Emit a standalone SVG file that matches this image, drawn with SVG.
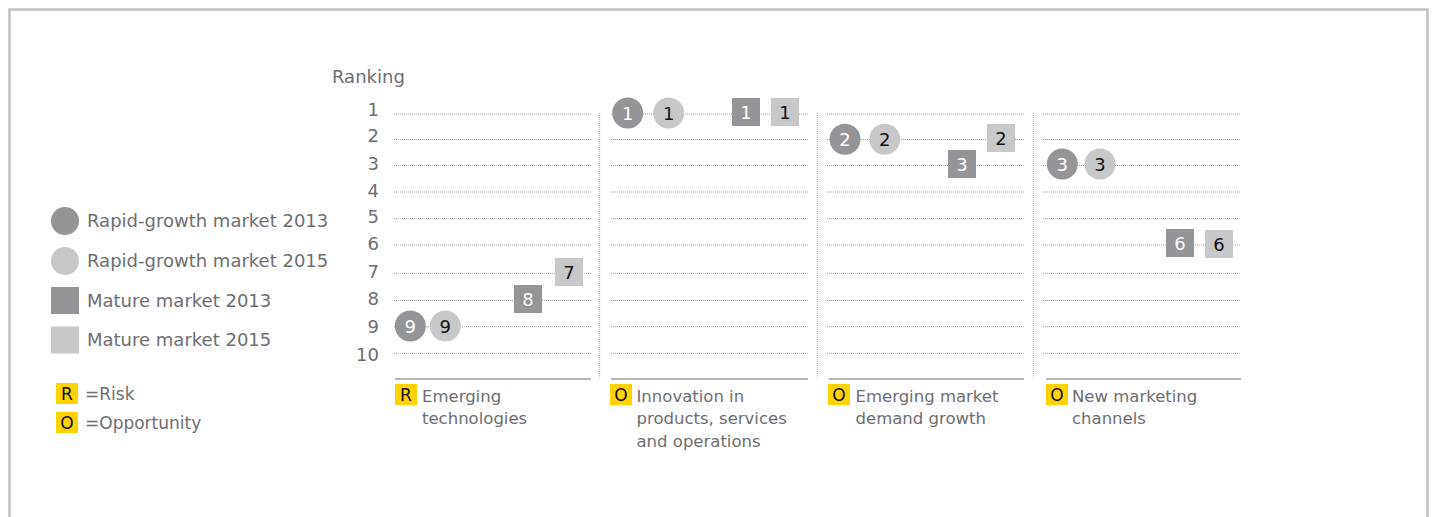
<svg xmlns="http://www.w3.org/2000/svg" width="1434" height="517" viewBox="0 0 1434 517">
<style>
text{font-family:"DejaVu Sans","Liberation Sans",sans-serif}
.lbl{font-size:18px;fill:#6d6e71}
.cat{font-size:16.5px;fill:#6d6e71}
.num{font-size:18px;fill:#6d6e71;text-anchor:end}
.grid{stroke:#9a9a9a;stroke-width:1;stroke-dasharray:1 1;fill:none}
.sep{stroke:#b8b8b8;stroke-width:1.2;stroke-dasharray:1 1;fill:none}
.base{stroke:#9d9d9d;stroke-width:1.5;fill:none}
.d{fill:#939598}
.l{fill:#c7c8ca}
.dt{font-size:18px;fill:#ffffff;text-anchor:middle}
.lt{font-size:18px;fill:#111111;text-anchor:middle}
.y{fill:#ffd200}
.yt{font-size:17px;fill:#111111;text-anchor:middle}
</style>
<rect width="1434" height="517" fill="#ffffff"/>
<path d="M9.5,517 V9.5 H1427.5 V517" fill="none" stroke="#c2c2c2" stroke-width="2.6"/>

<g id="axis">
<text class="lbl" x="332" y="83">Ranking</text>
<text class="num" x="379" y="115.7">1</text>
<text class="num" x="379" y="142.3">2</text>
<text class="num" x="379" y="169.5">3</text>
<text class="num" x="379" y="196.5">4</text>
<text class="num" x="379" y="223.3">5</text>
<text class="num" x="379" y="250">6</text>
<text class="num" x="379" y="278">7</text>
<text class="num" x="379" y="305">8</text>
<text class="num" x="379" y="332.5">9</text>
<text class="num" x="379" y="361">10</text>
</g>

<g id="connectors">
<path class="grid" d="M394,114H591M394,139.5H591M394,165.5H591M394,192H591M394,218.7H591M394,245H591M394,273.3H591M394,300.5H591M394,326.7H591M394,353.3H591"/>
<path class="grid" d="M611,114H808M611,139.5H808M611,165.5H808M611,192H808M611,218.7H808M611,245H808M611,273.3H808M611,300.5H808M611,326.7H808M611,353.3H808"/>
<path class="grid" d="M827,114H1025M827,139.5H1025M827,165.5H1025M827,192H1025M827,218.7H1025M827,245H1025M827,273.3H1025M827,300.5H1025M827,326.7H1025M827,353.3H1025"/>
<path class="grid" d="M1043,114H1241M1043,139.5H1241M1043,165.5H1241M1043,192H1241M1043,218.7H1241M1043,245H1241M1043,273.3H1241M1043,300.5H1241M1043,326.7H1241M1043,353.3H1241"/>
<path class="sep" d="M599.5,113V379M817.5,113V379M1033.5,113V379"/>
<path class="base" d="M395,379H591M611,379H808M829,379H1024M1046,379H1241"/>
</g>

<g id="legend">
<g id="leg-rg2013"><circle class="d" cx="65" cy="221" r="14"/><text class="lbl" x="87" y="227">Rapid-growth market 2013</text></g>
<g id="leg-rg2015"><circle class="l" cx="65" cy="261" r="14"/><text class="lbl" x="87" y="267">Rapid-growth market 2015</text></g>
<g id="leg-m2013"><rect class="d" x="51" y="287" width="28" height="27"/><text class="lbl" x="87" y="306.5">Mature market 2013</text></g>
<g id="leg-m2015"><rect class="l" x="51" y="326.5" width="28" height="27"/><text class="lbl" x="87" y="346">Mature market 2015</text></g>
<g id="leg-risk"><rect class="y" x="56" y="383" width="22" height="21"/><text class="yt" x="67" y="400">R</text><text class="lbl" x="85" y="400" style="font-size:17px">=Risk</text></g>
<g id="leg-opp"><rect class="y" x="56" y="412" width="22" height="21"/><text class="yt" x="67" y="429">O</text><text class="lbl" x="85" y="428.5" style="font-size:17px">=Opportunity</text></g>
</g>

<g id="panel-emerging-tech">
<rect class="l" x="555" y="258" width="28" height="28"/><text class="lt" x="569" y="278.5">7</text>
<rect class="d" x="514" y="285" width="28" height="28"/><text class="dt" x="528" y="305.5">8</text>
<circle class="d" cx="410.3" cy="326" r="15.5"/><text class="dt" x="410.3" y="332.5">9</text>
<circle class="l" cx="445.3" cy="326" r="15.5"/><text class="lt" x="445.3" y="332.5">9</text>
<rect class="y" x="395" y="384" width="22" height="21"/><text class="yt" x="406" y="401">R</text>
<text class="cat" x="422" y="401.5">Emerging</text>
<text class="cat" x="422" y="424">technologies</text>
</g>

<g id="panel-innovation">
<circle class="d" cx="627.7" cy="113" r="15.5"/><text class="dt" x="627.7" y="119.5">1</text>
<circle class="l" cx="668.7" cy="113" r="15.5"/><text class="lt" x="668.7" y="119.5">1</text>
<rect class="d" x="732" y="98" width="28" height="28"/><text class="dt" x="746" y="118.5">1</text>
<rect class="l" x="771" y="98" width="28" height="28"/><text class="lt" x="785" y="118.5">1</text>
<rect class="y" x="610" y="384" width="22" height="21"/><text class="yt" x="621" y="401">O</text>
<text class="cat" x="636.5" y="401.5">Innovation in</text>
<text class="cat" x="636.5" y="424">products, services</text>
<text class="cat" x="636.5" y="446.5">and operations</text>
</g>

<g id="panel-emerging-demand">
<circle class="d" cx="845" cy="139.3" r="15.5"/><text class="dt" x="845" y="145.8">2</text>
<circle class="l" cx="884.7" cy="139.3" r="15.5"/><text class="lt" x="884.7" y="145.8">2</text>
<rect class="l" x="987" y="124" width="28" height="28"/><text class="lt" x="1001" y="144.5">2</text>
<rect class="d" x="948" y="150" width="28" height="28"/><text class="dt" x="962" y="170.5">3</text>
<rect class="y" x="828" y="384" width="22" height="21"/><text class="yt" x="839" y="401">O</text>
<text class="cat" x="855.5" y="401.5">Emerging market</text>
<text class="cat" x="855.5" y="424">demand growth</text>
</g>

<g id="panel-marketing">
<circle class="d" cx="1062.3" cy="164" r="15.5"/><text class="dt" x="1062.3" y="170.5">3</text>
<circle class="l" cx="1100" cy="164" r="15.5"/><text class="lt" x="1100" y="170.5">3</text>
<rect class="d" x="1166" y="229" width="28" height="28"/><text class="dt" x="1180" y="249.5">6</text>
<rect class="l" x="1205" y="230" width="28" height="28"/><text class="lt" x="1219" y="250.5">6</text>
<rect class="y" x="1046" y="384" width="22" height="21"/><text class="yt" x="1057" y="401">O</text>
<text class="cat" x="1072" y="401.5">New marketing</text>
<text class="cat" x="1072" y="424">channels</text>
</g>
</svg>
